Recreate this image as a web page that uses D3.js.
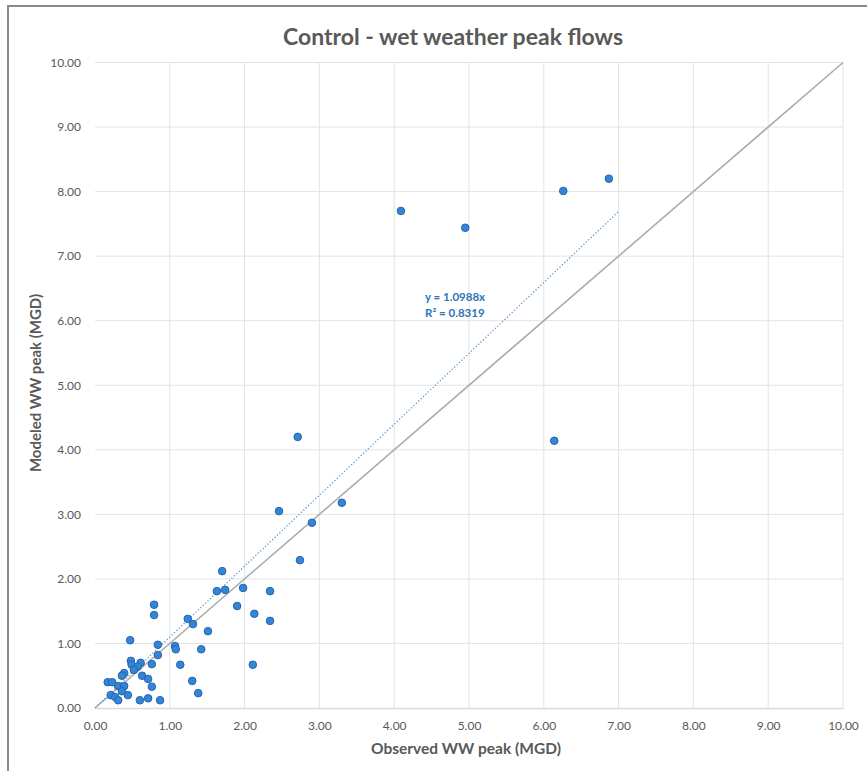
<!DOCTYPE html>
<html>
<head>
<meta charset="utf-8">
<script src="https://cdn.jsdelivr.net/npm/d3@7"></script>
<style>
  html, body { margin: 0; padding: 0; background: #fff; }
  svg { display: block; }
</style>
</head>
<body>
<svg id="chart" width="867" height="771"></svg>
<script>
// Observed vs modeled wet weather peak flows (MGD)
const observed = [
  4.09, 4.95, 6.26, 6.87, 6.14, 2.71, 2.46, 3.30, 2.90, 2.74,
  1.70, 1.63, 1.74, 1.98, 2.34, 1.90, 2.13, 2.34, 0.79, 0.79,
  1.24, 1.31, 1.51, 0.47, 0.84, 1.07, 1.08, 1.42, 0.84, 1.14,
  2.11, 0.48, 0.49, 0.61, 0.76, 0.57, 0.52, 0.39, 0.36, 0.63,
  0.71, 0.76, 1.30, 1.38, 0.17, 0.23, 0.31, 0.39, 0.36, 0.21,
  0.27, 0.31, 0.44, 0.60, 0.71, 0.87
];
const modeled = [
  7.70, 7.44, 8.01, 8.20, 4.14, 4.20, 3.05, 3.18, 2.87, 2.29,
  2.12, 1.81, 1.83, 1.86, 1.81, 1.58, 1.46, 1.35, 1.60, 1.44,
  1.38, 1.30, 1.19, 1.05, 0.98, 0.96, 0.91, 0.91, 0.82, 0.67,
  0.67, 0.73, 0.67, 0.70, 0.68, 0.64, 0.59, 0.54, 0.50, 0.50,
  0.45, 0.33, 0.42, 0.23, 0.40, 0.40, 0.34, 0.34, 0.26, 0.20,
  0.17, 0.12, 0.20, 0.12, 0.15, 0.12
];
const xTicks = [0, 1, 2, 3, 4, 5, 6, 7, 8, 9, 10];
const yTicks = [0, 1, 2, 3, 4, 5, 6, 7, 8, 9, 10];
const trendSlope = 1.0988;
const trendR2 = 0.8319;
const trendXEnd = 7;

const chartTitle = "Control - wet weather peak flows";
const xTitle = "Observed WW peak (MGD)";
const yTitle = "Modeled WW peak (MGD)";

const svg = d3.select("#chart");
const font = "Lato, 'Open Sans', sans-serif";
const textGray = "#595959";

// outer chart frame
svg.append("rect")
  .attr("x", 8).attr("y", 6)
  .attr("width", 880).attr("height", 800)
  .attr("fill", "#fff")
  .attr("stroke", "#8a8a8a").attr("stroke-width", 2);

const x = d3.scaleLinear().domain([0, 10]).range([95, 843]);
const y = d3.scaleLinear().domain([0, 10]).range([708, 62.5]);

// gridlines
const grid = svg.append("g");
grid.selectAll(".vg").data(xTicks.slice(1)).join("line")
  .attr("x1", d => x(d)).attr("x2", d => x(d))
  .attr("y1", y(0)).attr("y2", y(10))
  .attr("stroke", "#e3e3e3").attr("stroke-width", 1);
grid.selectAll(".hg").data(yTicks.slice(1)).join("line")
  .attr("x1", x(0)).attr("x2", x(10))
  .attr("y1", d => y(d)).attr("y2", d => y(d))
  .attr("stroke", "#e3e3e3").attr("stroke-width", 1);

// axes
const xAxis = svg.append("g")
  .attr("transform", `translate(0,${y(0)})`)
  .call(d3.axisBottom(x).tickValues(xTicks).tickFormat(d3.format(".2f")).tickSize(0).tickPadding(13));
xAxis.select(".domain").attr("stroke", "#d9d9d9").attr("stroke-width", 1.3);
xAxis.selectAll("text").attr("fill", textGray).attr("font-family", font).attr("font-size", 12);

const yAxis = svg.append("g")
  .attr("transform", `translate(${x(0)},0)`)
  .call(d3.axisLeft(y).tickValues(yTicks).tickFormat(d3.format(".2f")).tickSize(0).tickPadding(14));
yAxis.select(".domain").remove();
yAxis.selectAll("text").attr("fill", textGray).attr("font-family", font).attr("font-size", 12);

// 1:1 reference line
svg.append("line")
  .attr("x1", x(0)).attr("y1", y(0))
  .attr("x2", x(10)).attr("y2", y(10))
  .attr("stroke", "#acacac").attr("stroke-width", 1.6);

// linear trendline through the origin
svg.append("line")
  .attr("x1", x(0)).attr("y1", y(0))
  .attr("x2", x(trendXEnd)).attr("y2", y(trendSlope * trendXEnd))
  .attr("stroke", "#5b9bd5").attr("stroke-width", 1.3)
  .attr("stroke-dasharray", "1.3,2");

// data points
svg.append("g").selectAll("circle")
  .data(observed.map((o, i) => [o, modeled[i]]))
  .join("circle")
  .attr("cx", d => x(d[0])).attr("cy", d => y(d[1]))
  .attr("r", 3.8)
  .attr("fill", "#3585d6")
  .attr("stroke", "#2266b0").attr("stroke-width", 1);

// trendline equation
const eq = svg.append("text")
  .attr("font-family", font).attr("font-size", 11.5).attr("font-weight", 700)
  .attr("fill", "#2e75b6");
eq.append("tspan").attr("x", 425).attr("y", 301).text(`y = ${trendSlope}x`);
eq.append("tspan").attr("x", 425).attr("y", 317).text(`R² = ${trendR2}`);

// titles
svg.append("text")
  .attr("x", 453).attr("y", 45)
  .attr("text-anchor", "middle")
  .attr("font-family", font).attr("font-size", 23).attr("font-weight", 700)
  .attr("fill", textGray)
  .text(chartTitle);

svg.append("text")
  .attr("x", 466).attr("y", 754)
  .attr("text-anchor", "middle")
  .attr("font-family", font).attr("font-size", 15.5).attr("font-weight", 700)
  .attr("fill", textGray)
  .text(xTitle);

svg.append("text")
  .attr("transform", "translate(41,383) rotate(-90)")
  .attr("text-anchor", "middle")
  .attr("font-family", font).attr("font-size", 15).attr("font-weight", 700)
  .attr("fill", textGray)
  .text(yTitle);
</script>
</body>
</html>
